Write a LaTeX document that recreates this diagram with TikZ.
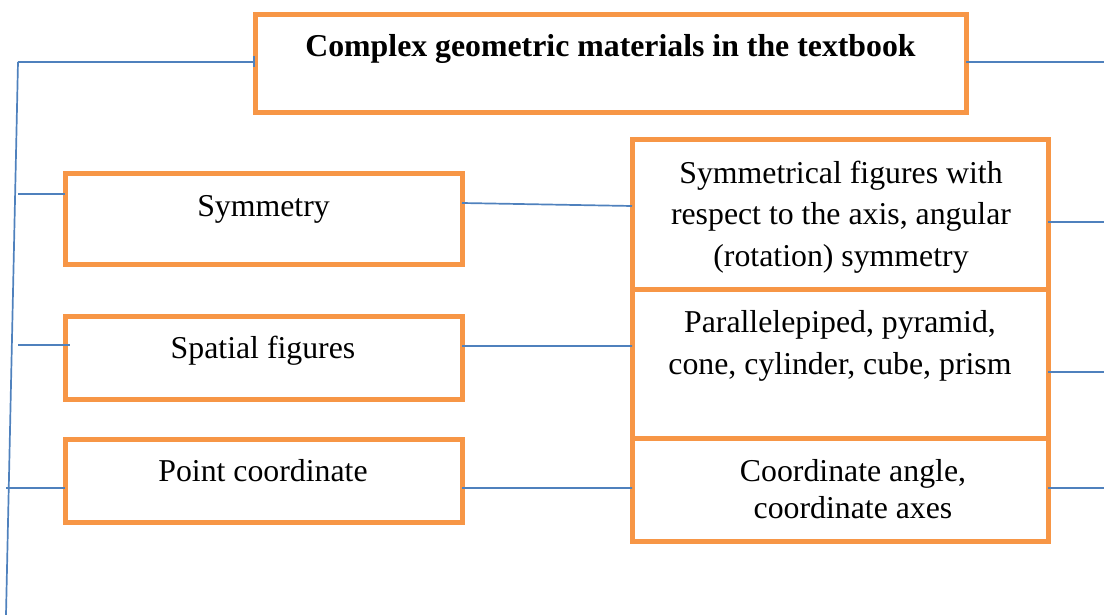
\documentclass[tikz,border=0pt]{standalone}
\usepackage{fontspec}
\setmainfont{Liberation Serif}
\usepackage{xcolor}
\usetikzlibrary{arrows.meta}

\definecolor{boxorange}{HTML}{F79646}
\definecolor{lineblue}{HTML}{4F81BD}

\begin{document}
\begin{tikzpicture}[x = 0.5pt, y = -0.5pt,
    frame/.style = {draw = boxorange, line width = 2.5pt, inner sep = 0pt, outer sep = 0pt},
    word/.style = {font = \fontsize{15.9}{20.75}\selectfont, align = center, anchor = base, inner sep = 0pt},
    link/.style = {draw = lineblue, line width = 0.85pt}]

    \useasboundingbox (0,0) rectangle (1104,615);

    % Title box
    \node[frame, minimum width = 355.5pt, minimum height = 49pt] (main) at (610.5,64) {};
    \node[word, font = \fontsize{15.9}{20.75}\selectfont\bfseries] (main-t) at (610.5,57)
        {Complex geometric materials in the textbook};

    % Left column
    \node[frame, minimum width = 198.5pt, minimum height = 45pt] (sym) at (263.5,219) {};
    \node[frame, minimum width = 198.5pt, minimum height = 41.5pt] (spat) at (263.5,357.5) {};
    \node[frame, minimum width = 198.5pt, minimum height = 41.5pt] (point) at (263.5,480.5) {};

    \node[word] (sym-t) at (263.5,217) {Symmetry};
    \node[word] (spat-t) at (263,358) {Spatial figures};
    \node[word] (point-t) at (263,481) {Point coordinate};

    % Right column (base anchor sits on the last line)
    \node[frame, minimum width = 208pt, minimum height = 74.5pt] (symfig) at (840,214.5) {};
    \node[frame, minimum width = 208pt, minimum height = 74.75pt] (solids) at (840,363.75) {};
    \node[frame, minimum width = 208pt, minimum height = 51.25pt] (axes) at (840,489.75) {};

    \node[word] (symfig-t) at (841,266)
        {Symmetrical figures with\\ respect to the axis, angular\\ (rotation) symmetry};
    \node[word] (solids-t) at (840,374)
        {Parallelepiped, pyramid,\\ cone, cylinder, cube, prism};
    \node[word, font = \fontsize{15.9}{18.5}\selectfont] (axes-t) at (853,518)
        {Coordinate angle,\\ coordinate axes};

    % Left spine
    \coordinate (top) at (18,62);
    \coordinate (bottom) at (6,615);
    \coordinate (b1) at (18,194);
    \coordinate (b2) at (18,345);
    \coordinate (b3) at (6,488);

    \draw[link] (bottom) -- (top);
    \draw[link, -{Bar[width = 5.5pt]}] (top) -- (top -| main.west);
    \draw[link] (b1) -- (b1 -| sym.west);
    \draw[link] (b2) -- ([xshift = 2.5pt]b2 -| spat.west);
    \draw[link] (b3) -- (b3 -| point.west);

    % Middle links
    \draw[link] ([yshift = 8pt]sym.east) -- ([yshift = 4.25pt]symfig.west);
    \draw[link] ([yshift = 5.75pt]spat.east) -- ([yshift = 8.9pt]solids.west);
    \draw[link] ([yshift = -3.75pt]point.east) -- ([yshift = 0.9pt]axes.west);

    % Right stubs
    \draw[link] ([yshift = 1pt]main.east) -- ++(138,0);
    \draw[link] ([yshift = -3.75pt]symfig.east) -- ++(56,0);
    \draw[link] ([yshift = -4.1pt]solids.east) -- ++(56,0);
    \draw[link] ([yshift = 0.9pt]axes.east) -- ++(56,0);

\end{tikzpicture}
\end{document}
